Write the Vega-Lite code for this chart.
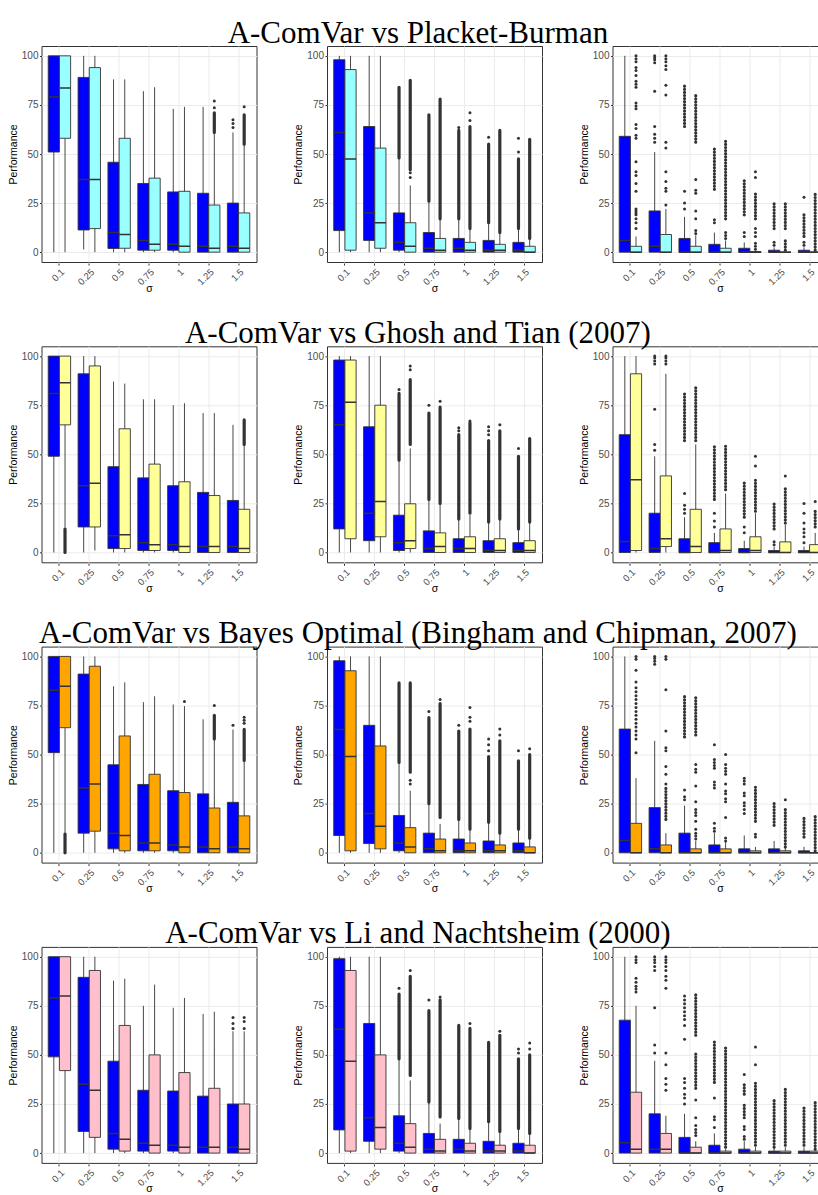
{
"$schema": "https://vega.github.io/schema/vega-lite/v6.json",
"padding": {"left": 7.5, "top": 17, "right": -10, "bottom": -2},
"background": "white",
"spacing": 23.3,
"resolve": {"scale": {"xOffset": "independent", "color": "independent"}},
"config": {
  "view": {"stroke": "#333333", "strokeWidth": 1, "fill": "white"},
  "font": "Liberation Sans",
  "title": {"font": "Liberation Serif", "fontSize": 31, "fontWeight": "normal", "color": "black", "anchor": "middle", "offset": -4},
  "axis": {"labelFont": "Liberation Sans", "titleFont": "Liberation Sans", "labelColor": "#4D4D4D", "titleColor": "black", "titleFontWeight": "normal", "labelFontSize": 10, "titleFontSize": 10.5, "tickColor": "#333333", "tickSize": 2, "domain": false, "gridColor": "#EBEBEB", "gridWidth": 1},
  "axisX": {"labelFontSize": 9.5}
},
"datasets": {
"r1": [
{"col":1,"sigma":"0.1","method":"A-ComVar","lo":0,"q1":51,"med":79,"q3":100,"hi":100},
{"col":1,"sigma":"0.1","method":"Placket-Burman","lo":0,"q1":58,"med":83.6,"q3":100,"hi":100},
{"col":1,"sigma":"0.25","method":"A-ComVar","lo":1.4,"q1":11.3,"med":37,"q3":89,"hi":100},
{"col":1,"sigma":"0.25","method":"Placket-Burman","lo":0,"q1":12,"med":37,"q3":94,"hi":100},
{"col":1,"sigma":"0.5","method":"A-ComVar","lo":0,"q1":1.9,"med":10,"q3":45.8,"hi":88},
{"col":1,"sigma":"0.5","method":"Placket-Burman","lo":0,"q1":2,"med":9,"q3":58,"hi":88},
{"col":1,"sigma":"0.75","method":"A-ComVar","lo":0,"q1":1,"med":6,"q3":35,"hi":82},
{"col":1,"sigma":"0.75","method":"Placket-Burman","lo":0,"q1":1,"med":4,"q3":37.7,"hi":84},
{"col":1,"sigma":"1","method":"A-ComVar","lo":0,"q1":1,"med":4,"q3":30.7,"hi":73},
{"col":1,"sigma":"1","method":"Placket-Burman","lo":0,"q1":0,"med":3,"q3":31,"hi":74},
{"col":1,"sigma":"1.25","method":"A-ComVar","lo":0,"q1":0,"med":3,"q3":30,"hi":74},
{"col":1,"sigma":"1.25","method":"Placket-Burman","lo":0,"q1":0,"med":2,"q3":24,"hi":61},
{"col":1,"sigma":"1.5","method":"A-ComVar","lo":0,"q1":0,"med":3,"q3":25,"hi":61},
{"col":1,"sigma":"1.5","method":"Placket-Burman","lo":0,"q1":0,"med":2,"q3":20,"hi":55},
{"col":1,"sigma":"1.25","method":"Placket-Burman","from":61,"to":71},
{"col":1,"sigma":"1.5","method":"Placket-Burman","from":55,"to":70},
{"col":1,"sigma":"1.25","method":"Placket-Burman","v":73.6},
{"col":1,"sigma":"1.25","method":"Placket-Burman","v":77},
{"col":1,"sigma":"1.5","method":"A-ComVar","v":63.5},
{"col":1,"sigma":"1.5","method":"A-ComVar","v":65.5},
{"col":1,"sigma":"1.5","method":"A-ComVar","v":67.5},
{"col":1,"sigma":"1.5","method":"Placket-Burman","v":74},
{"col":2,"sigma":"0.1","method":"A-ComVar","lo":0,"q1":11,"med":61,"q3":98,"hi":100},
{"col":2,"sigma":"0.1","method":"Placket-Burman","lo":0,"q1":1,"med":47.5,"q3":93,"hi":100},
{"col":2,"sigma":"0.25","method":"A-ComVar","lo":0,"q1":6,"med":20,"q3":64,"hi":100},
{"col":2,"sigma":"0.25","method":"Placket-Burman","lo":0,"q1":2,"med":15,"q3":53,"hi":100},
{"col":2,"sigma":"0.5","method":"A-ComVar","lo":0,"q1":1,"med":5,"q3":20,"hi":48},
{"col":2,"sigma":"0.5","method":"Placket-Burman","lo":0,"q1":0,"med":3,"q3":15,"hi":34},
{"col":2,"sigma":"0.75","method":"A-ComVar","lo":0,"q1":0,"med":2,"q3":10,"hi":25.5},
{"col":2,"sigma":"0.75","method":"Placket-Burman","lo":0,"q1":0,"med":1,"q3":7,"hi":17},
{"col":2,"sigma":"1","method":"A-ComVar","lo":0,"q1":0,"med":2,"q3":7,"hi":17},
{"col":2,"sigma":"1","method":"Placket-Burman","lo":0,"q1":0,"med":1,"q3":5,"hi":12},
{"col":2,"sigma":"1.25","method":"A-ComVar","lo":0,"q1":0,"med":1,"q3":6,"hi":15},
{"col":2,"sigma":"1.25","method":"Placket-Burman","lo":0,"q1":0,"med":1,"q3":4,"hi":10},
{"col":2,"sigma":"1.5","method":"A-ComVar","lo":0,"q1":0,"med":1,"q3":5,"hi":12},
{"col":2,"sigma":"1.5","method":"Placket-Burman","lo":0,"q1":0,"med":0,"q3":3,"hi":7},
{"col":2,"sigma":"0.5","method":"A-ComVar","from":48,"to":84},
{"col":2,"sigma":"0.5","method":"Placket-Burman","from":42,"to":87.5},
{"col":2,"sigma":"0.75","method":"A-ComVar","from":26,"to":70},
{"col":2,"sigma":"0.75","method":"Placket-Burman","from":17,"to":78},
{"col":2,"sigma":"1","method":"A-ComVar","from":17,"to":62},
{"col":2,"sigma":"1","method":"Placket-Burman","from":12,"to":64},
{"col":2,"sigma":"1.25","method":"A-ComVar","from":15,"to":55},
{"col":2,"sigma":"1.25","method":"Placket-Burman","from":10,"to":62},
{"col":2,"sigma":"1.5","method":"A-ComVar","from":12,"to":47.5},
{"col":2,"sigma":"1.5","method":"Placket-Burman","from":7,"to":57.5},
{"col":2,"sigma":"0.5","method":"Placket-Burman","v":38},
{"col":2,"sigma":"0.5","method":"Placket-Burman","v":40.5},
{"col":2,"sigma":"1","method":"A-ComVar","v":63.5},
{"col":2,"sigma":"1","method":"Placket-Burman","v":67},
{"col":2,"sigma":"1","method":"Placket-Burman","v":71},
{"col":2,"sigma":"1.25","method":"A-ComVar","v":58.5},
{"col":2,"sigma":"1.5","method":"A-ComVar","v":51},
{"col":2,"sigma":"1.5","method":"A-ComVar","v":58},
{"col":3,"sigma":"0.1","method":"A-ComVar","lo":0,"q1":0,"med":6,"q3":59,"hi":100},
{"col":3,"sigma":"0.1","method":"Placket-Burman","lo":0,"q1":0,"med":0,"q3":3,"hi":8},
{"col":3,"sigma":"0.25","method":"A-ComVar","lo":0,"q1":0,"med":3,"q3":21,"hi":51},
{"col":3,"sigma":"0.25","method":"Placket-Burman","lo":0,"q1":0,"med":0,"q3":9,"hi":22},
{"col":3,"sigma":"0.5","method":"A-ComVar","lo":0,"q1":0,"med":0,"q3":7,"hi":18},
{"col":3,"sigma":"0.5","method":"Placket-Burman","lo":0,"q1":0,"med":0,"q3":3,"hi":8.6},
{"col":3,"sigma":"0.75","method":"A-ComVar","lo":0,"q1":0,"med":0,"q3":4,"hi":10},
{"col":3,"sigma":"0.75","method":"Placket-Burman","lo":0,"q1":0,"med":0,"q3":2,"hi":6},
{"col":3,"sigma":"1","method":"A-ComVar","lo":0,"q1":0,"med":0,"q3":2,"hi":5},
{"col":3,"sigma":"1","method":"Placket-Burman","lo":0,"q1":0,"med":0,"q3":0.3,"hi":0.8},
{"col":3,"sigma":"1.25","method":"A-ComVar","lo":0,"q1":0,"med":0,"q3":1,"hi":2.5},
{"col":3,"sigma":"1.25","method":"Placket-Burman","lo":0,"q1":0,"med":0,"q3":0,"hi":0},
{"col":3,"sigma":"1.5","method":"A-ComVar","lo":0,"q1":0,"med":0,"q3":1,"hi":2.5},
{"col":3,"sigma":"1.5","method":"Placket-Burman","lo":0,"q1":0,"med":0,"q3":0,"hi":0},
{"col":3,"sigma":"0.5","method":"A-ComVar","from":64,"to":86},
{"col":3,"sigma":"0.5","method":"Placket-Burman","from":56,"to":81},
{"col":3,"sigma":"0.75","method":"A-ComVar","from":32,"to":54},
{"col":3,"sigma":"0.75","method":"Placket-Burman","from":17,"to":58},
{"col":3,"sigma":"1","method":"A-ComVar","from":19,"to":37},
{"col":3,"sigma":"1","method":"Placket-Burman","from":17,"to":30},
{"col":3,"sigma":"1.25","method":"A-ComVar","from":12,"to":25},
{"col":3,"sigma":"1.25","method":"Placket-Burman","from":1,"to":7},
{"col":3,"sigma":"1.25","method":"Placket-Burman","from":12,"to":26},
{"col":3,"sigma":"1.5","method":"A-ComVar","from":8,"to":20},
{"col":3,"sigma":"1.5","method":"Placket-Burman","from":1,"to":30},
{"col":3,"sigma":"0.1","method":"Placket-Burman","v":12},
{"col":3,"sigma":"0.1","method":"Placket-Burman","v":15},
{"col":3,"sigma":"0.1","method":"Placket-Burman","v":17},
{"col":3,"sigma":"0.1","method":"Placket-Burman","v":19},
{"col":3,"sigma":"0.1","method":"Placket-Burman","v":20},
{"col":3,"sigma":"0.1","method":"Placket-Burman","v":21},
{"col":3,"sigma":"0.1","method":"Placket-Burman","v":22},
{"col":3,"sigma":"0.1","method":"Placket-Burman","v":31},
{"col":3,"sigma":"0.1","method":"Placket-Burman","v":35},
{"col":3,"sigma":"0.1","method":"Placket-Burman","v":39},
{"col":3,"sigma":"0.1","method":"Placket-Burman","v":41},
{"col":3,"sigma":"0.1","method":"Placket-Burman","v":46},
{"col":3,"sigma":"0.1","method":"Placket-Burman","v":58},
{"col":3,"sigma":"0.1","method":"Placket-Burman","v":59.5},
{"col":3,"sigma":"0.1","method":"Placket-Burman","v":63},
{"col":3,"sigma":"0.1","method":"Placket-Burman","v":65},
{"col":3,"sigma":"0.1","method":"Placket-Burman","v":73},
{"col":3,"sigma":"0.1","method":"Placket-Burman","v":74.5},
{"col":3,"sigma":"0.1","method":"Placket-Burman","v":76},
{"col":3,"sigma":"0.1","method":"Placket-Burman","v":84},
{"col":3,"sigma":"0.1","method":"Placket-Burman","v":85.5},
{"col":3,"sigma":"0.1","method":"Placket-Burman","v":87},
{"col":3,"sigma":"0.1","method":"Placket-Burman","v":90},
{"col":3,"sigma":"0.1","method":"Placket-Burman","v":92.5},
{"col":3,"sigma":"0.1","method":"Placket-Burman","v":94},
{"col":3,"sigma":"0.1","method":"Placket-Burman","v":97},
{"col":3,"sigma":"0.1","method":"Placket-Burman","v":98.5},
{"col":3,"sigma":"0.1","method":"Placket-Burman","v":100},
{"col":3,"sigma":"0.25","method":"A-ComVar","v":56},
{"col":3,"sigma":"0.25","method":"A-ComVar","v":58},
{"col":3,"sigma":"0.25","method":"A-ComVar","v":60},
{"col":3,"sigma":"0.25","method":"A-ComVar","v":64},
{"col":3,"sigma":"0.25","method":"A-ComVar","v":82},
{"col":3,"sigma":"0.25","method":"A-ComVar","v":96.5},
{"col":3,"sigma":"0.25","method":"A-ComVar","v":98},
{"col":3,"sigma":"0.25","method":"A-ComVar","v":99},
{"col":3,"sigma":"0.25","method":"A-ComVar","v":100},
{"col":3,"sigma":"0.25","method":"Placket-Burman","v":24},
{"col":3,"sigma":"0.25","method":"Placket-Burman","v":31},
{"col":3,"sigma":"0.25","method":"Placket-Burman","v":32.5},
{"col":3,"sigma":"0.25","method":"Placket-Burman","v":36},
{"col":3,"sigma":"0.25","method":"Placket-Burman","v":41},
{"col":3,"sigma":"0.25","method":"Placket-Burman","v":53},
{"col":3,"sigma":"0.25","method":"Placket-Burman","v":56},
{"col":3,"sigma":"0.25","method":"Placket-Burman","v":80},
{"col":3,"sigma":"0.25","method":"Placket-Burman","v":85},
{"col":3,"sigma":"0.25","method":"Placket-Burman","v":93},
{"col":3,"sigma":"0.25","method":"Placket-Burman","v":95},
{"col":3,"sigma":"0.25","method":"Placket-Burman","v":97},
{"col":3,"sigma":"0.25","method":"Placket-Burman","v":98.5},
{"col":3,"sigma":"0.25","method":"Placket-Burman","v":100},
{"col":3,"sigma":"0.5","method":"A-ComVar","v":22},
{"col":3,"sigma":"0.5","method":"A-ComVar","v":25},
{"col":3,"sigma":"0.5","method":"A-ComVar","v":31},
{"col":3,"sigma":"0.5","method":"Placket-Burman","v":9.5},
{"col":3,"sigma":"0.5","method":"Placket-Burman","v":11},
{"col":3,"sigma":"0.5","method":"Placket-Burman","v":17},
{"col":3,"sigma":"0.5","method":"Placket-Burman","v":21},
{"col":3,"sigma":"0.5","method":"Placket-Burman","v":30},
{"col":3,"sigma":"0.5","method":"Placket-Burman","v":31.5},
{"col":3,"sigma":"0.5","method":"Placket-Burman","v":37},
{"col":3,"sigma":"0.75","method":"A-ComVar","v":15},
{"col":3,"sigma":"0.75","method":"A-ComVar","v":16.5},
{"col":3,"sigma":"0.75","method":"Placket-Burman","v":7},
{"col":3,"sigma":"0.75","method":"Placket-Burman","v":8.5},
{"col":3,"sigma":"0.75","method":"Placket-Burman","v":10},
{"col":3,"sigma":"1","method":"A-ComVar","v":8},
{"col":3,"sigma":"1","method":"A-ComVar","v":10},
{"col":3,"sigma":"1","method":"Placket-Burman","v":1.5},
{"col":3,"sigma":"1","method":"Placket-Burman","v":3},
{"col":3,"sigma":"1","method":"Placket-Burman","v":4.5},
{"col":3,"sigma":"1","method":"Placket-Burman","v":8},
{"col":3,"sigma":"1","method":"Placket-Burman","v":10},
{"col":3,"sigma":"1","method":"Placket-Burman","v":12},
{"col":3,"sigma":"1","method":"Placket-Burman","v":38},
{"col":3,"sigma":"1","method":"Placket-Burman","v":41},
{"col":3,"sigma":"1.25","method":"A-ComVar","v":3.5},
{"col":3,"sigma":"1.25","method":"A-ComVar","v":5},
{"col":3,"sigma":"1.5","method":"A-ComVar","v":3.5},
{"col":3,"sigma":"1.5","method":"A-ComVar","v":5},
{"col":3,"sigma":"1.5","method":"A-ComVar","v":28}
],
"r2": [
{"col":1,"sigma":"0.1","method":"A-ComVar","lo":0,"q1":49,"med":81,"q3":100,"hi":100},
{"col":1,"sigma":"0.1","method":"Ghosh and Tian","lo":13,"q1":65,"med":86.5,"q3":100,"hi":100},
{"col":1,"sigma":"0.25","method":"A-ComVar","lo":0,"q1":13,"med":34,"q3":91,"hi":100},
{"col":1,"sigma":"0.25","method":"Ghosh and Tian","lo":1,"q1":13,"med":35.3,"q3":95,"hi":100},
{"col":1,"sigma":"0.5","method":"A-ComVar","lo":0,"q1":2,"med":8.5,"q3":43.7,"hi":87},
{"col":1,"sigma":"0.5","method":"Ghosh and Tian","lo":0,"q1":2,"med":9,"q3":63,"hi":86},
{"col":1,"sigma":"0.75","method":"A-ComVar","lo":0,"q1":1,"med":5,"q3":38,"hi":78},
{"col":1,"sigma":"0.75","method":"Ghosh and Tian","lo":0,"q1":1,"med":4,"q3":45,"hi":78},
{"col":1,"sigma":"1","method":"A-ComVar","lo":0,"q1":1,"med":4,"q3":34,"hi":75},
{"col":1,"sigma":"1","method":"Ghosh and Tian","lo":0,"q1":0,"med":3,"q3":36,"hi":76},
{"col":1,"sigma":"1.25","method":"A-ComVar","lo":0,"q1":0,"med":3,"q3":30.6,"hi":71},
{"col":1,"sigma":"1.25","method":"Ghosh and Tian","lo":0,"q1":0,"med":3,"q3":29,"hi":71},
{"col":1,"sigma":"1.5","method":"A-ComVar","lo":0,"q1":0,"med":3,"q3":26.5,"hi":65},
{"col":1,"sigma":"1.5","method":"Ghosh and Tian","lo":0,"q1":0,"med":2,"q3":22,"hi":55},
{"col":1,"sigma":"0.1","method":"Ghosh and Tian","from":0,"to":12},
{"col":1,"sigma":"1.5","method":"Ghosh and Tian","from":55,"to":67.5},
{"col":2,"sigma":"0.1","method":"A-ComVar","lo":0,"q1":12,"med":65,"q3":98,"hi":100},
{"col":2,"sigma":"0.1","method":"Ghosh and Tian","lo":0,"q1":7,"med":76.5,"q3":98,"hi":100},
{"col":2,"sigma":"0.25","method":"A-ComVar","lo":0,"q1":6,"med":20,"q3":64,"hi":100},
{"col":2,"sigma":"0.25","method":"Ghosh and Tian","lo":0,"q1":8,"med":26,"q3":75,"hi":100},
{"col":2,"sigma":"0.5","method":"A-ComVar","lo":0,"q1":1,"med":5,"q3":19,"hi":46.6},
{"col":2,"sigma":"0.5","method":"Ghosh and Tian","lo":0,"q1":2,"med":6,"q3":24.8,"hi":53},
{"col":2,"sigma":"0.75","method":"A-ComVar","lo":0,"q1":0,"med":2,"q3":11,"hi":27},
{"col":2,"sigma":"0.75","method":"Ghosh and Tian","lo":0,"q1":0,"med":3,"q3":10,"hi":25},
{"col":2,"sigma":"1","method":"A-ComVar","lo":0,"q1":0,"med":2,"q3":7,"hi":17},
{"col":2,"sigma":"1","method":"Ghosh and Tian","lo":0,"q1":0,"med":2,"q3":8,"hi":19},
{"col":2,"sigma":"1.25","method":"A-ComVar","lo":0,"q1":0,"med":1,"q3":6,"hi":15.5},
{"col":2,"sigma":"1.25","method":"Ghosh and Tian","lo":0,"q1":0,"med":1,"q3":7,"hi":17},
{"col":2,"sigma":"1.5","method":"A-ComVar","lo":0,"q1":0,"med":1,"q3":5,"hi":12},
{"col":2,"sigma":"1.5","method":"Ghosh and Tian","lo":0,"q1":0,"med":1,"q3":6,"hi":15.5},
{"col":2,"sigma":"0.5","method":"A-ComVar","from":47,"to":81},
{"col":2,"sigma":"0.5","method":"Ghosh and Tian","from":55,"to":88},
{"col":2,"sigma":"0.75","method":"A-ComVar","from":27,"to":71},
{"col":2,"sigma":"0.75","method":"Ghosh and Tian","from":25,"to":74},
{"col":2,"sigma":"1","method":"A-ComVar","from":17,"to":60},
{"col":2,"sigma":"1","method":"Ghosh and Tian","from":20,"to":66},
{"col":2,"sigma":"1.25","method":"A-ComVar","from":15.5,"to":57},
{"col":2,"sigma":"1.25","method":"Ghosh and Tian","from":17,"to":62},
{"col":2,"sigma":"1.5","method":"A-ComVar","from":12,"to":49},
{"col":2,"sigma":"1.5","method":"Ghosh and Tian","from":15.5,"to":58},
{"col":2,"sigma":"0.5","method":"A-ComVar","v":83},
{"col":2,"sigma":"0.5","method":"Ghosh and Tian","v":93},
{"col":2,"sigma":"0.5","method":"Ghosh and Tian","v":95},
{"col":2,"sigma":"0.75","method":"A-ComVar","v":75},
{"col":2,"sigma":"0.75","method":"Ghosh and Tian","v":77},
{"col":2,"sigma":"1","method":"A-ComVar","v":62},
{"col":2,"sigma":"1","method":"A-ComVar","v":63.5},
{"col":2,"sigma":"1","method":"Ghosh and Tian","v":67},
{"col":2,"sigma":"1.25","method":"A-ComVar","v":60},
{"col":2,"sigma":"1.25","method":"A-ComVar","v":62},
{"col":2,"sigma":"1.25","method":"A-ComVar","v":64},
{"col":2,"sigma":"1.25","method":"Ghosh and Tian","v":65},
{"col":2,"sigma":"1.5","method":"A-ComVar","v":53},
{"col":3,"sigma":"0.1","method":"A-ComVar","lo":0,"q1":0,"med":5.6,"q3":60,"hi":100},
{"col":3,"sigma":"0.1","method":"Ghosh and Tian","lo":0,"q1":1,"med":37,"q3":91,"hi":100},
{"col":3,"sigma":"0.25","method":"A-ComVar","lo":0,"q1":0,"med":2,"q3":20,"hi":49},
{"col":3,"sigma":"0.25","method":"Ghosh and Tian","lo":0,"q1":3,"med":7,"q3":39,"hi":91},
{"col":3,"sigma":"0.5","method":"A-ComVar","lo":0,"q1":0,"med":0,"q3":7,"hi":18},
{"col":3,"sigma":"0.5","method":"Ghosh and Tian","lo":0,"q1":0,"med":3,"q3":22,"hi":55},
{"col":3,"sigma":"0.75","method":"A-ComVar","lo":0,"q1":0,"med":0,"q3":5,"hi":10},
{"col":3,"sigma":"0.75","method":"Ghosh and Tian","lo":0,"q1":0,"med":1,"q3":12,"hi":30},
{"col":3,"sigma":"1","method":"A-ComVar","lo":0,"q1":0,"med":0,"q3":2,"hi":6},
{"col":3,"sigma":"1","method":"Ghosh and Tian","lo":0,"q1":0,"med":1,"q3":8,"hi":20},
{"col":3,"sigma":"1.25","method":"A-ComVar","lo":0,"q1":0,"med":0,"q3":1,"hi":3},
{"col":3,"sigma":"1.25","method":"Ghosh and Tian","lo":0,"q1":0,"med":0,"q3":5.4,"hi":14},
{"col":3,"sigma":"1.5","method":"A-ComVar","lo":0,"q1":0,"med":0,"q3":1,"hi":3},
{"col":3,"sigma":"1.5","method":"Ghosh and Tian","lo":0,"q1":0,"med":0,"q3":4,"hi":10},
{"col":3,"sigma":"0.5","method":"A-ComVar","from":57,"to":81},
{"col":3,"sigma":"0.5","method":"Ghosh and Tian","from":57,"to":84},
{"col":3,"sigma":"0.75","method":"A-ComVar","from":27,"to":54},
{"col":3,"sigma":"0.75","method":"Ghosh and Tian","from":32,"to":54.5},
{"col":3,"sigma":"1","method":"A-ComVar","from":18,"to":36},
{"col":3,"sigma":"1","method":"Ghosh and Tian","from":21,"to":37},
{"col":3,"sigma":"1.25","method":"A-ComVar","from":12,"to":26},
{"col":3,"sigma":"1.25","method":"Ghosh and Tian","from":15,"to":33},
{"col":3,"sigma":"1.5","method":"Ghosh and Tian","from":13,"to":22},
{"col":3,"sigma":"0.25","method":"A-ComVar","v":52},
{"col":3,"sigma":"0.25","method":"A-ComVar","v":55},
{"col":3,"sigma":"0.25","method":"A-ComVar","v":73},
{"col":3,"sigma":"0.25","method":"A-ComVar","v":96},
{"col":3,"sigma":"0.25","method":"A-ComVar","v":97.5},
{"col":3,"sigma":"0.25","method":"A-ComVar","v":99},
{"col":3,"sigma":"0.25","method":"A-ComVar","v":100},
{"col":3,"sigma":"0.25","method":"Ghosh and Tian","v":96},
{"col":3,"sigma":"0.25","method":"Ghosh and Tian","v":97.5},
{"col":3,"sigma":"0.25","method":"Ghosh and Tian","v":99},
{"col":3,"sigma":"0.25","method":"Ghosh and Tian","v":100},
{"col":3,"sigma":"0.5","method":"A-ComVar","v":20},
{"col":3,"sigma":"0.5","method":"A-ComVar","v":22},
{"col":3,"sigma":"0.5","method":"A-ComVar","v":24},
{"col":3,"sigma":"0.5","method":"A-ComVar","v":30},
{"col":3,"sigma":"0.75","method":"A-ComVar","v":13},
{"col":3,"sigma":"0.75","method":"A-ComVar","v":16},
{"col":3,"sigma":"0.75","method":"A-ComVar","v":20},
{"col":3,"sigma":"1","method":"A-ComVar","v":10},
{"col":3,"sigma":"1","method":"A-ComVar","v":13},
{"col":3,"sigma":"1","method":"Ghosh and Tian","v":44},
{"col":3,"sigma":"1","method":"Ghosh and Tian","v":49},
{"col":3,"sigma":"1.25","method":"A-ComVar","v":4},
{"col":3,"sigma":"1.25","method":"A-ComVar","v":5.5},
{"col":3,"sigma":"1.25","method":"Ghosh and Tian","v":39},
{"col":3,"sigma":"1.5","method":"A-ComVar","v":5},
{"col":3,"sigma":"1.5","method":"A-ComVar","v":8},
{"col":3,"sigma":"1.5","method":"A-ComVar","v":10},
{"col":3,"sigma":"1.5","method":"A-ComVar","v":12},
{"col":3,"sigma":"1.5","method":"A-ComVar","v":15},
{"col":3,"sigma":"1.5","method":"A-ComVar","v":20},
{"col":3,"sigma":"1.5","method":"A-ComVar","v":25},
{"col":3,"sigma":"1.5","method":"Ghosh and Tian","v":26}
],
"r3": [
{"col":1,"sigma":"0.1","method":"A-ComVar","lo":0,"q1":51,"med":82.8,"q3":100,"hi":100},
{"col":1,"sigma":"0.1","method":"Bayes Optimal","lo":10.5,"q1":63.7,"med":84.8,"q3":100,"hi":100},
{"col":1,"sigma":"0.25","method":"A-ComVar","lo":0,"q1":10,"med":33,"q3":91,"hi":100},
{"col":1,"sigma":"0.25","method":"Bayes Optimal","lo":0,"q1":11,"med":35,"q3":95,"hi":100},
{"col":1,"sigma":"0.5","method":"A-ComVar","lo":0,"q1":2,"med":10,"q3":44.8,"hi":84.8},
{"col":1,"sigma":"0.5","method":"Bayes Optimal","lo":0,"q1":1,"med":8.8,"q3":59.5,"hi":86.8},
{"col":1,"sigma":"0.75","method":"A-ComVar","lo":0,"q1":1,"med":5,"q3":34.8,"hi":76.7},
{"col":1,"sigma":"0.75","method":"Bayes Optimal","lo":0,"q1":1,"med":5,"q3":40,"hi":79.7},
{"col":1,"sigma":"1","method":"A-ComVar","lo":0,"q1":1,"med":4,"q3":31.6,"hi":75.5},
{"col":1,"sigma":"1","method":"Bayes Optimal","lo":0,"q1":0,"med":3,"q3":30.7,"hi":74.7},
{"col":1,"sigma":"1.25","method":"A-ComVar","lo":0,"q1":0,"med":3,"q3":30,"hi":68},
{"col":1,"sigma":"1.25","method":"Bayes Optimal","lo":0,"q1":0,"med":2,"q3":22.8,"hi":58},
{"col":1,"sigma":"1.5","method":"A-ComVar","lo":0,"q1":0,"med":3,"q3":25.7,"hi":62.8},
{"col":1,"sigma":"1.5","method":"Bayes Optimal","lo":0,"q1":0,"med":2,"q3":18.8,"hi":46.8},
{"col":1,"sigma":"0.1","method":"Bayes Optimal","from":0,"to":9.6},
{"col":1,"sigma":"1.25","method":"Bayes Optimal","from":58,"to":70},
{"col":1,"sigma":"1.5","method":"Bayes Optimal","from":47,"to":62.8},
{"col":1,"sigma":"1","method":"Bayes Optimal","v":77},
{"col":1,"sigma":"1.25","method":"Bayes Optimal","v":75},
{"col":1,"sigma":"1.5","method":"A-ComVar","v":65},
{"col":1,"sigma":"1.5","method":"Bayes Optimal","v":66},
{"col":1,"sigma":"1.5","method":"Bayes Optimal","v":67.5},
{"col":1,"sigma":"1.5","method":"Bayes Optimal","v":69},
{"col":2,"sigma":"0.1","method":"A-ComVar","lo":0,"q1":8.8,"med":62.8,"q3":97.8,"hi":100},
{"col":2,"sigma":"0.1","method":"Bayes Optimal","lo":0,"q1":1,"med":49,"q3":92.7,"hi":100},
{"col":2,"sigma":"0.25","method":"A-ComVar","lo":0,"q1":4.7,"med":20,"q3":64.9,"hi":100},
{"col":2,"sigma":"0.25","method":"Bayes Optimal","lo":0,"q1":2,"med":13.5,"q3":54.4,"hi":100},
{"col":2,"sigma":"0.5","method":"A-ComVar","lo":0,"q1":1,"med":5,"q3":19,"hi":46},
{"col":2,"sigma":"0.5","method":"Bayes Optimal","lo":0,"q1":0,"med":3,"q3":12.8,"hi":31.6},
{"col":2,"sigma":"0.75","method":"A-ComVar","lo":0,"q1":0,"med":2,"q3":10,"hi":24.8},
{"col":2,"sigma":"0.75","method":"Bayes Optimal","lo":0,"q1":0,"med":1,"q3":7,"hi":14.7},
{"col":2,"sigma":"1","method":"A-ComVar","lo":0,"q1":0,"med":1,"q3":7,"hi":17},
{"col":2,"sigma":"1","method":"Bayes Optimal","lo":0,"q1":0,"med":1,"q3":5,"hi":12},
{"col":2,"sigma":"1.25","method":"A-ComVar","lo":0,"q1":0,"med":1,"q3":6,"hi":15.5},
{"col":2,"sigma":"1.25","method":"Bayes Optimal","lo":0,"q1":0,"med":1,"q3":4,"hi":10},
{"col":2,"sigma":"1.5","method":"A-ComVar","lo":0,"q1":0,"med":1,"q3":5,"hi":12},
{"col":2,"sigma":"1.5","method":"Bayes Optimal","lo":0,"q1":0,"med":0,"q3":3,"hi":7.4},
{"col":2,"sigma":"0.5","method":"A-ComVar","from":46,"to":86.5},
{"col":2,"sigma":"0.5","method":"Bayes Optimal","from":41,"to":86.5},
{"col":2,"sigma":"0.75","method":"A-ComVar","from":25,"to":68.8},
{"col":2,"sigma":"0.75","method":"Bayes Optimal","from":18,"to":76},
{"col":2,"sigma":"1","method":"A-ComVar","from":17,"to":62},
{"col":2,"sigma":"1","method":"Bayes Optimal","from":12,"to":63},
{"col":2,"sigma":"1.25","method":"A-ComVar","from":15.5,"to":49},
{"col":2,"sigma":"1.25","method":"Bayes Optimal","from":10,"to":57},
{"col":2,"sigma":"1.5","method":"A-ComVar","from":12,"to":46.8},
{"col":2,"sigma":"1.5","method":"Bayes Optimal","from":7.4,"to":50},
{"col":2,"sigma":"0.5","method":"Bayes Optimal","v":35},
{"col":2,"sigma":"0.5","method":"Bayes Optimal","v":37},
{"col":2,"sigma":"0.75","method":"A-ComVar","v":72},
{"col":2,"sigma":"0.75","method":"Bayes Optimal","v":78},
{"col":2,"sigma":"1","method":"A-ComVar","v":65},
{"col":2,"sigma":"1","method":"Bayes Optimal","v":67},
{"col":2,"sigma":"1","method":"Bayes Optimal","v":69},
{"col":2,"sigma":"1","method":"Bayes Optimal","v":74},
{"col":2,"sigma":"1.25","method":"A-ComVar","v":52},
{"col":2,"sigma":"1.25","method":"A-ComVar","v":55},
{"col":2,"sigma":"1.25","method":"A-ComVar","v":58},
{"col":2,"sigma":"1.25","method":"Bayes Optimal","v":60},
{"col":2,"sigma":"1.25","method":"Bayes Optimal","v":63},
{"col":2,"sigma":"1.5","method":"A-ComVar","v":52},
{"col":2,"sigma":"1.5","method":"Bayes Optimal","v":53},
{"col":3,"sigma":"0.1","method":"A-ComVar","lo":0,"q1":0,"med":6.2,"q3":63,"hi":100},
{"col":3,"sigma":"0.1","method":"Bayes Optimal","lo":0,"q1":0,"med":0,"q3":15,"hi":38},
{"col":3,"sigma":"0.25","method":"A-ComVar","lo":0,"q1":0,"med":2,"q3":23,"hi":57},
{"col":3,"sigma":"0.25","method":"Bayes Optimal","lo":0,"q1":0,"med":0,"q3":4,"hi":10},
{"col":3,"sigma":"0.5","method":"A-ComVar","lo":0,"q1":0,"med":0,"q3":10,"hi":24},
{"col":3,"sigma":"0.5","method":"Bayes Optimal","lo":0,"q1":0,"med":0,"q3":2,"hi":6},
{"col":3,"sigma":"0.75","method":"A-ComVar","lo":0,"q1":0,"med":0,"q3":4,"hi":10},
{"col":3,"sigma":"0.75","method":"Bayes Optimal","lo":0,"q1":0,"med":0,"q3":2,"hi":5.4},
{"col":3,"sigma":"1","method":"A-ComVar","lo":0,"q1":0,"med":0,"q3":2,"hi":8.8},
{"col":3,"sigma":"1","method":"Bayes Optimal","lo":0,"q1":0,"med":0,"q3":1,"hi":3},
{"col":3,"sigma":"1.25","method":"A-ComVar","lo":0,"q1":0,"med":0,"q3":2,"hi":6},
{"col":3,"sigma":"1.25","method":"Bayes Optimal","lo":0,"q1":0,"med":0,"q3":1,"hi":3},
{"col":3,"sigma":"1.5","method":"A-ComVar","lo":0,"q1":0,"med":0,"q3":1,"hi":3},
{"col":3,"sigma":"1.5","method":"Bayes Optimal","lo":0,"q1":0,"med":0,"q3":0,"hi":0},
{"col":3,"sigma":"0.25","method":"Bayes Optimal","from":17,"to":33},
{"col":3,"sigma":"0.5","method":"A-ComVar","from":59,"to":80},
{"col":3,"sigma":"0.5","method":"Bayes Optimal","from":60,"to":79},
{"col":3,"sigma":"1","method":"Bayes Optimal","from":16,"to":34},
{"col":3,"sigma":"1.25","method":"A-ComVar","from":14,"to":26},
{"col":3,"sigma":"1.25","method":"Bayes Optimal","from":3,"to":22},
{"col":3,"sigma":"1.5","method":"A-ComVar","from":8,"to":18},
{"col":3,"sigma":"1.5","method":"Bayes Optimal","from":1,"to":19},
{"col":3,"sigma":"0.1","method":"Bayes Optimal","v":51},
{"col":3,"sigma":"0.1","method":"Bayes Optimal","v":58},
{"col":3,"sigma":"0.1","method":"Bayes Optimal","v":60},
{"col":3,"sigma":"0.1","method":"Bayes Optimal","v":62},
{"col":3,"sigma":"0.1","method":"Bayes Optimal","v":64},
{"col":3,"sigma":"0.1","method":"Bayes Optimal","v":66},
{"col":3,"sigma":"0.1","method":"Bayes Optimal","v":68},
{"col":3,"sigma":"0.1","method":"Bayes Optimal","v":70},
{"col":3,"sigma":"0.1","method":"Bayes Optimal","v":72},
{"col":3,"sigma":"0.1","method":"Bayes Optimal","v":74},
{"col":3,"sigma":"0.1","method":"Bayes Optimal","v":76},
{"col":3,"sigma":"0.1","method":"Bayes Optimal","v":78},
{"col":3,"sigma":"0.1","method":"Bayes Optimal","v":80},
{"col":3,"sigma":"0.1","method":"Bayes Optimal","v":82},
{"col":3,"sigma":"0.1","method":"Bayes Optimal","v":84},
{"col":3,"sigma":"0.1","method":"Bayes Optimal","v":87},
{"col":3,"sigma":"0.1","method":"Bayes Optimal","v":93},
{"col":3,"sigma":"0.1","method":"Bayes Optimal","v":98.5},
{"col":3,"sigma":"0.1","method":"Bayes Optimal","v":100},
{"col":3,"sigma":"0.25","method":"A-ComVar","v":96},
{"col":3,"sigma":"0.25","method":"A-ComVar","v":97.5},
{"col":3,"sigma":"0.25","method":"A-ComVar","v":99},
{"col":3,"sigma":"0.25","method":"A-ComVar","v":100},
{"col":3,"sigma":"0.25","method":"Bayes Optimal","v":35},
{"col":3,"sigma":"0.25","method":"Bayes Optimal","v":40},
{"col":3,"sigma":"0.25","method":"Bayes Optimal","v":44},
{"col":3,"sigma":"0.25","method":"Bayes Optimal","v":52},
{"col":3,"sigma":"0.25","method":"Bayes Optimal","v":53.5},
{"col":3,"sigma":"0.25","method":"Bayes Optimal","v":62},
{"col":3,"sigma":"0.25","method":"Bayes Optimal","v":83},
{"col":3,"sigma":"0.25","method":"Bayes Optimal","v":98.5},
{"col":3,"sigma":"0.25","method":"Bayes Optimal","v":100},
{"col":3,"sigma":"0.5","method":"A-ComVar","v":27},
{"col":3,"sigma":"0.5","method":"A-ComVar","v":28.5},
{"col":3,"sigma":"0.5","method":"A-ComVar","v":32},
{"col":3,"sigma":"0.5","method":"Bayes Optimal","v":7},
{"col":3,"sigma":"0.5","method":"Bayes Optimal","v":8.5},
{"col":3,"sigma":"0.5","method":"Bayes Optimal","v":10},
{"col":3,"sigma":"0.5","method":"Bayes Optimal","v":12},
{"col":3,"sigma":"0.5","method":"Bayes Optimal","v":16},
{"col":3,"sigma":"0.5","method":"Bayes Optimal","v":19},
{"col":3,"sigma":"0.5","method":"Bayes Optimal","v":20.5},
{"col":3,"sigma":"0.5","method":"Bayes Optimal","v":22},
{"col":3,"sigma":"0.5","method":"Bayes Optimal","v":26},
{"col":3,"sigma":"0.5","method":"Bayes Optimal","v":34},
{"col":3,"sigma":"0.5","method":"Bayes Optimal","v":41},
{"col":3,"sigma":"0.5","method":"Bayes Optimal","v":42.5},
{"col":3,"sigma":"0.5","method":"Bayes Optimal","v":45},
{"col":3,"sigma":"0.75","method":"A-ComVar","v":11},
{"col":3,"sigma":"0.75","method":"A-ComVar","v":12.5},
{"col":3,"sigma":"0.75","method":"A-ComVar","v":15},
{"col":3,"sigma":"0.75","method":"A-ComVar","v":33},
{"col":3,"sigma":"0.75","method":"A-ComVar","v":34.5},
{"col":3,"sigma":"0.75","method":"A-ComVar","v":36},
{"col":3,"sigma":"0.75","method":"A-ComVar","v":43},
{"col":3,"sigma":"0.75","method":"A-ComVar","v":44.5},
{"col":3,"sigma":"0.75","method":"A-ComVar","v":46},
{"col":3,"sigma":"0.75","method":"A-ComVar","v":47.5},
{"col":3,"sigma":"0.75","method":"A-ComVar","v":55},
{"col":3,"sigma":"0.75","method":"Bayes Optimal","v":6},
{"col":3,"sigma":"0.75","method":"Bayes Optimal","v":7.5},
{"col":3,"sigma":"0.75","method":"Bayes Optimal","v":18},
{"col":3,"sigma":"0.75","method":"Bayes Optimal","v":26},
{"col":3,"sigma":"0.75","method":"Bayes Optimal","v":27.5},
{"col":3,"sigma":"0.75","method":"Bayes Optimal","v":30},
{"col":3,"sigma":"0.75","method":"Bayes Optimal","v":31.5},
{"col":3,"sigma":"0.75","method":"Bayes Optimal","v":35},
{"col":3,"sigma":"0.75","method":"Bayes Optimal","v":40},
{"col":3,"sigma":"0.75","method":"Bayes Optimal","v":41.5},
{"col":3,"sigma":"0.75","method":"Bayes Optimal","v":43},
{"col":3,"sigma":"0.75","method":"Bayes Optimal","v":45},
{"col":3,"sigma":"0.75","method":"Bayes Optimal","v":50},
{"col":3,"sigma":"1","method":"A-ComVar","v":20},
{"col":3,"sigma":"1","method":"A-ComVar","v":22},
{"col":3,"sigma":"1","method":"A-ComVar","v":24},
{"col":3,"sigma":"1","method":"A-ComVar","v":25.5},
{"col":3,"sigma":"1","method":"A-ComVar","v":29},
{"col":3,"sigma":"1","method":"A-ComVar","v":30.5},
{"col":3,"sigma":"1","method":"A-ComVar","v":35},
{"col":3,"sigma":"1","method":"A-ComVar","v":36.5},
{"col":3,"sigma":"1","method":"A-ComVar","v":38},
{"col":3,"sigma":"1","method":"Bayes Optimal","v":8},
{"col":3,"sigma":"1","method":"Bayes Optimal","v":9.5},
{"col":3,"sigma":"1.25","method":"Bayes Optimal","v":27}
],
"r4": [
{"col":1,"sigma":"0.1","method":"A-ComVar","lo":0,"q1":49,"med":79,"q3":100,"hi":100},
{"col":1,"sigma":"0.1","method":"Li and Nachtsheim","lo":0,"q1":42,"med":80,"q3":100,"hi":100},
{"col":1,"sigma":"0.25","method":"A-ComVar","lo":0,"q1":11,"med":35,"q3":89.5,"hi":100},
{"col":1,"sigma":"0.25","method":"Li and Nachtsheim","lo":0,"q1":8,"med":32,"q3":93,"hi":100},
{"col":1,"sigma":"0.5","method":"A-ComVar","lo":0,"q1":2,"med":10,"q3":46.8,"hi":87.8},
{"col":1,"sigma":"0.5","method":"Li and Nachtsheim","lo":0,"q1":1,"med":7,"q3":65,"hi":88.8},
{"col":1,"sigma":"0.75","method":"A-ComVar","lo":0,"q1":1,"med":5,"q3":32,"hi":75},
{"col":1,"sigma":"0.75","method":"Li and Nachtsheim","lo":0,"q1":0,"med":4,"q3":50,"hi":85.8},
{"col":1,"sigma":"1","method":"A-ComVar","lo":0,"q1":1,"med":4,"q3":31.6,"hi":74},
{"col":1,"sigma":"1","method":"Li and Nachtsheim","lo":0,"q1":0,"med":3,"q3":41,"hi":79},
{"col":1,"sigma":"1.25","method":"A-ComVar","lo":0,"q1":0,"med":3,"q3":29,"hi":70.8},
{"col":1,"sigma":"1.25","method":"Li and Nachtsheim","lo":0,"q1":0,"med":3,"q3":33,"hi":72},
{"col":1,"sigma":"1.5","method":"A-ComVar","lo":0,"q1":0,"med":3,"q3":25,"hi":62},
{"col":1,"sigma":"1.5","method":"Li and Nachtsheim","lo":0,"q1":0,"med":2,"q3":25,"hi":62},
{"col":1,"sigma":"1.5","method":"A-ComVar","v":63.5},
{"col":1,"sigma":"1.5","method":"A-ComVar","v":66},
{"col":1,"sigma":"1.5","method":"A-ComVar","v":69},
{"col":1,"sigma":"1.5","method":"Li and Nachtsheim","v":63.5},
{"col":1,"sigma":"1.5","method":"Li and Nachtsheim","v":67},
{"col":1,"sigma":"1.5","method":"Li and Nachtsheim","v":69},
{"col":2,"sigma":"0.1","method":"A-ComVar","lo":0,"q1":11.8,"med":63,"q3":99,"hi":100},
{"col":2,"sigma":"0.1","method":"Li and Nachtsheim","lo":0,"q1":1,"med":46.8,"q3":93,"hi":100},
{"col":2,"sigma":"0.25","method":"A-ComVar","lo":0,"q1":6,"med":18,"q3":66,"hi":100},
{"col":2,"sigma":"0.25","method":"Li and Nachtsheim","lo":0,"q1":2,"med":13,"q3":50,"hi":100},
{"col":2,"sigma":"0.5","method":"A-ComVar","lo":0,"q1":1,"med":5,"q3":19,"hi":48},
{"col":2,"sigma":"0.5","method":"Li and Nachtsheim","lo":0,"q1":0,"med":3,"q3":15,"hi":37},
{"col":2,"sigma":"0.75","method":"A-ComVar","lo":0,"q1":0,"med":2,"q3":10,"hi":25.7},
{"col":2,"sigma":"0.75","method":"Li and Nachtsheim","lo":0,"q1":0,"med":1,"q3":7,"hi":15},
{"col":2,"sigma":"1","method":"A-ComVar","lo":0,"q1":0,"med":2,"q3":7,"hi":17.6},
{"col":2,"sigma":"1","method":"Li and Nachtsheim","lo":0,"q1":0,"med":1,"q3":5,"hi":12.5},
{"col":2,"sigma":"1.25","method":"A-ComVar","lo":0,"q1":0,"med":1,"q3":6,"hi":16},
{"col":2,"sigma":"1.25","method":"Li and Nachtsheim","lo":0,"q1":0,"med":1,"q3":4,"hi":11},
{"col":2,"sigma":"1.5","method":"A-ComVar","lo":0,"q1":0,"med":1,"q3":5,"hi":12.5},
{"col":2,"sigma":"1.5","method":"Li and Nachtsheim","lo":0,"q1":0,"med":0,"q3":4,"hi":10},
{"col":2,"sigma":"0.5","method":"A-ComVar","from":48,"to":81},
{"col":2,"sigma":"0.5","method":"Li and Nachtsheim","from":39.5,"to":90},
{"col":2,"sigma":"0.75","method":"A-ComVar","from":26,"to":72.5},
{"col":2,"sigma":"0.75","method":"Li and Nachtsheim","from":18.4,"to":78},
{"col":2,"sigma":"1","method":"A-ComVar","from":17.6,"to":65},
{"col":2,"sigma":"1","method":"Li and Nachtsheim","from":12.5,"to":63.5},
{"col":2,"sigma":"1.25","method":"A-ComVar","from":16,"to":56.4},
{"col":2,"sigma":"1.25","method":"Li and Nachtsheim","from":11,"to":60},
{"col":2,"sigma":"1.5","method":"A-ComVar","from":12.5,"to":48},
{"col":2,"sigma":"1.5","method":"Li and Nachtsheim","from":10,"to":50},
{"col":2,"sigma":"0.5","method":"A-ComVar","v":84},
{"col":2,"sigma":"0.5","method":"Li and Nachtsheim","v":93},
{"col":2,"sigma":"0.75","method":"A-ComVar","v":78},
{"col":2,"sigma":"0.75","method":"Li and Nachtsheim","v":79.5},
{"col":2,"sigma":"1","method":"Li and Nachtsheim","v":66},
{"col":2,"sigma":"1.25","method":"Li and Nachtsheim","v":62},
{"col":2,"sigma":"1.5","method":"A-ComVar","v":51},
{"col":2,"sigma":"1.5","method":"A-ComVar","v":53},
{"col":2,"sigma":"1.5","method":"Li and Nachtsheim","v":53},
{"col":2,"sigma":"1.5","method":"Li and Nachtsheim","v":56},
{"col":3,"sigma":"0.1","method":"A-ComVar","lo":0,"q1":0,"med":5.2,"q3":67.7,"hi":100},
{"col":3,"sigma":"0.1","method":"Li and Nachtsheim","lo":0,"q1":0,"med":2,"q3":31,"hi":75},
{"col":3,"sigma":"0.25","method":"A-ComVar","lo":0,"q1":0,"med":2,"q3":20,"hi":47},
{"col":3,"sigma":"0.25","method":"Li and Nachtsheim","lo":0,"q1":0,"med":2,"q3":10,"hi":19},
{"col":3,"sigma":"0.5","method":"A-ComVar","lo":0,"q1":0,"med":0,"q3":8,"hi":20},
{"col":3,"sigma":"0.5","method":"Li and Nachtsheim","lo":0,"q1":0,"med":0,"q3":3,"hi":6},
{"col":3,"sigma":"0.75","method":"A-ComVar","lo":0,"q1":0,"med":0,"q3":4,"hi":10},
{"col":3,"sigma":"0.75","method":"Li and Nachtsheim","lo":0,"q1":0,"med":0,"q3":1,"hi":2},
{"col":3,"sigma":"1","method":"A-ComVar","lo":0,"q1":0,"med":0,"q3":2,"hi":6},
{"col":3,"sigma":"1","method":"Li and Nachtsheim","lo":0,"q1":0,"med":0,"q3":1,"hi":3},
{"col":3,"sigma":"1.25","method":"A-ComVar","lo":0,"q1":0,"med":0,"q3":1,"hi":3},
{"col":3,"sigma":"1.25","method":"Li and Nachtsheim","lo":0,"q1":0,"med":0,"q3":1,"hi":3},
{"col":3,"sigma":"1.5","method":"A-ComVar","lo":0,"q1":0,"med":0,"q3":1,"hi":3},
{"col":3,"sigma":"1.5","method":"Li and Nachtsheim","lo":0,"q1":0,"med":0,"q3":1,"hi":3},
{"col":3,"sigma":"0.5","method":"Li and Nachtsheim","from":33,"to":51},
{"col":3,"sigma":"0.5","method":"Li and Nachtsheim","from":60,"to":81},
{"col":3,"sigma":"0.75","method":"A-ComVar","from":36,"to":58},
{"col":3,"sigma":"0.75","method":"Li and Nachtsheim","from":3,"to":55},
{"col":3,"sigma":"1","method":"A-ComVar","from":18,"to":25},
{"col":3,"sigma":"1","method":"A-ComVar","from":30,"to":36},
{"col":3,"sigma":"1","method":"Li and Nachtsheim","from":4,"to":36},
{"col":3,"sigma":"1.25","method":"A-ComVar","from":3,"to":27},
{"col":3,"sigma":"1.25","method":"Li and Nachtsheim","from":4,"to":33},
{"col":3,"sigma":"1.5","method":"A-ComVar","from":4,"to":24},
{"col":3,"sigma":"1.5","method":"Li and Nachtsheim","from":2,"to":27},
{"col":3,"sigma":"0.1","method":"Li and Nachtsheim","v":82},
{"col":3,"sigma":"0.1","method":"Li and Nachtsheim","v":83.5},
{"col":3,"sigma":"0.1","method":"Li and Nachtsheim","v":85},
{"col":3,"sigma":"0.1","method":"Li and Nachtsheim","v":87},
{"col":3,"sigma":"0.1","method":"Li and Nachtsheim","v":89},
{"col":3,"sigma":"0.1","method":"Li and Nachtsheim","v":97},
{"col":3,"sigma":"0.1","method":"Li and Nachtsheim","v":98.5},
{"col":3,"sigma":"0.1","method":"Li and Nachtsheim","v":100},
{"col":3,"sigma":"0.25","method":"A-ComVar","v":51},
{"col":3,"sigma":"0.25","method":"A-ComVar","v":55},
{"col":3,"sigma":"0.25","method":"A-ComVar","v":74},
{"col":3,"sigma":"0.25","method":"A-ComVar","v":93},
{"col":3,"sigma":"0.25","method":"A-ComVar","v":95},
{"col":3,"sigma":"0.25","method":"A-ComVar","v":97},
{"col":3,"sigma":"0.25","method":"A-ComVar","v":98.5},
{"col":3,"sigma":"0.25","method":"A-ComVar","v":100},
{"col":3,"sigma":"0.25","method":"Li and Nachtsheim","v":32},
{"col":3,"sigma":"0.25","method":"Li and Nachtsheim","v":35},
{"col":3,"sigma":"0.25","method":"Li and Nachtsheim","v":38},
{"col":3,"sigma":"0.25","method":"Li and Nachtsheim","v":45},
{"col":3,"sigma":"0.25","method":"Li and Nachtsheim","v":51},
{"col":3,"sigma":"0.25","method":"Li and Nachtsheim","v":84},
{"col":3,"sigma":"0.25","method":"Li and Nachtsheim","v":88},
{"col":3,"sigma":"0.25","method":"Li and Nachtsheim","v":90},
{"col":3,"sigma":"0.25","method":"Li and Nachtsheim","v":93},
{"col":3,"sigma":"0.25","method":"Li and Nachtsheim","v":95},
{"col":3,"sigma":"0.25","method":"Li and Nachtsheim","v":97},
{"col":3,"sigma":"0.25","method":"Li and Nachtsheim","v":98.5},
{"col":3,"sigma":"0.25","method":"Li and Nachtsheim","v":100},
{"col":3,"sigma":"0.5","method":"A-ComVar","v":25},
{"col":3,"sigma":"0.5","method":"A-ComVar","v":28},
{"col":3,"sigma":"0.5","method":"A-ComVar","v":30},
{"col":3,"sigma":"0.5","method":"A-ComVar","v":33},
{"col":3,"sigma":"0.5","method":"A-ComVar","v":36},
{"col":3,"sigma":"0.5","method":"A-ComVar","v":38},
{"col":3,"sigma":"0.5","method":"A-ComVar","v":58},
{"col":3,"sigma":"0.5","method":"A-ComVar","v":65},
{"col":3,"sigma":"0.5","method":"A-ComVar","v":68},
{"col":3,"sigma":"0.5","method":"A-ComVar","v":70},
{"col":3,"sigma":"0.5","method":"A-ComVar","v":72},
{"col":3,"sigma":"0.5","method":"A-ComVar","v":74},
{"col":3,"sigma":"0.5","method":"A-ComVar","v":76},
{"col":3,"sigma":"0.5","method":"A-ComVar","v":78},
{"col":3,"sigma":"0.5","method":"A-ComVar","v":80},
{"col":3,"sigma":"0.5","method":"Li and Nachtsheim","v":9},
{"col":3,"sigma":"0.5","method":"Li and Nachtsheim","v":10.5},
{"col":3,"sigma":"0.5","method":"Li and Nachtsheim","v":12},
{"col":3,"sigma":"0.5","method":"Li and Nachtsheim","v":14},
{"col":3,"sigma":"0.5","method":"Li and Nachtsheim","v":18},
{"col":3,"sigma":"0.5","method":"Li and Nachtsheim","v":27},
{"col":3,"sigma":"0.75","method":"A-ComVar","v":13},
{"col":3,"sigma":"0.75","method":"A-ComVar","v":17},
{"col":3,"sigma":"0.75","method":"A-ComVar","v":18.5},
{"col":3,"sigma":"0.75","method":"A-ComVar","v":28},
{"col":3,"sigma":"1","method":"A-ComVar","v":7},
{"col":3,"sigma":"1","method":"A-ComVar","v":8.5},
{"col":3,"sigma":"1","method":"A-ComVar","v":12},
{"col":3,"sigma":"1","method":"A-ComVar","v":13.5},
{"col":3,"sigma":"1","method":"A-ComVar","v":40},
{"col":3,"sigma":"1","method":"Li and Nachtsheim","v":45},
{"col":3,"sigma":"1","method":"Li and Nachtsheim","v":54}
]
},
"vconcat": [
{
 "title": "A-ComVar vs Placket-Burman",
 "data": {"name": "r1"},
 "facet": {"column": {"field": "col", "type": "ordinal", "header": null}},
 "spacing": 35.5,
 "resolve": {"axis": {"y": "independent"}},
 "spec": {
  "width": 215, "height": 216,
  "layer": [
   {"transform": [{"filter": "isValid(datum.q1)"}],
    "mark": {"type": "rule", "color": "#333333", "strokeWidth": 0.9},
    "encoding": {
     "x": {"field": "sigma", "type": "nominal", "title": "σ", "scale": {"domain": ["0.1","0.25","0.5","0.75","1","1.25","1.5"], "paddingInner": 0.25, "paddingOuter": 0.225}, "axis": {"labelAngle": -45, "labelAlign": "right", "labelBaseline": "top", "grid": true, "bandPosition": 0.5, "titleY": 20, "labelPadding": 1.5}},
     "xOffset": {"field": "method", "type": "nominal", "scale": {"domain": ["A-ComVar", "Placket-Burman"], "paddingInner": 0, "paddingOuter": 0}},
     "y": {"field": "lo", "type": "quantitative", "title": "Performance", "scale": {"domain": [-5, 105], "nice": false, "zero": false}, "axis": {"values": [0,12.5,25,37.5,50,62.5,75,87.5,100], "labelExpr": "datum.value % 25 == 0 ? datum.label : ''", "gridWidth": {"condition": {"test": "datum.value % 25 == 0", "value": 1}, "value": 0.6}, "tickOpacity": {"condition": {"test": "datum.value % 25 == 0", "value": 1}, "value": 0}, "titlePadding": 3, "labelPadding": 1.5}},
     "y2": {"field": "hi"}}},
   {"transform": [{"filter": "isValid(datum.q1)"}],
    "mark": {"type": "bar", "stroke": "#333333", "strokeWidth": 0.9},
    "encoding": {
     "x": {"field": "sigma", "type": "nominal"},
     "xOffset": {"field": "method", "type": "nominal"},
     "y": {"field": "q1", "type": "quantitative"},
     "y2": {"field": "q3"},
     "color": {"field": "method", "type": "nominal", "scale": {"domain": ["A-ComVar", "Placket-Burman"], "range": ["#0000FF", "#99FFFF"]}, "legend": null}}},
   {"transform": [{"filter": "isValid(datum.q1)"}],
    "mark": {"type": "bar", "fillOpacity": 0, "stroke": "#333333", "strokeWidth": 1.5},
    "encoding": {
     "x": {"field": "sigma", "type": "nominal"},
     "xOffset": {"field": "method", "type": "nominal"},
     "y": {"field": "med", "type": "quantitative"},
     "y2": {"field": "med"}}},
   {"transform": [{"filter": "isValid(datum.from)"}],
    "mark": {"type": "rule", "color": "#333333", "strokeWidth": 3.2, "strokeCap": "round"},
    "encoding": {
     "x": {"field": "sigma", "type": "nominal"},
     "xOffset": {"field": "method", "type": "nominal"},
     "y": {"field": "from", "type": "quantitative"},
     "y2": {"field": "to"},
     "strokeDash": {"condition": {"test": "datum.col == 3", "value": [0, 3.1]}, "value": [1, 0]}}},
   {"transform": [{"filter": "isValid(datum.v)"}],
    "mark": {"type": "circle", "color": "#333333", "size": 9, "opacity": 1},
    "encoding": {
     "x": {"field": "sigma", "type": "nominal"},
     "xOffset": {"field": "method", "type": "nominal"},
     "y": {"field": "v", "type": "quantitative"}}}
  ]
 }
},
{
 "title": "A-ComVar vs Ghosh and Tian (2007)",
 "data": {"name": "r2"},
 "facet": {"column": {"field": "col", "type": "ordinal", "header": null}},
 "spacing": 35.5,
 "resolve": {"axis": {"y": "independent"}},
 "spec": {
  "width": 215, "height": 216,
  "layer": [
   {"transform": [{"filter": "isValid(datum.q1)"}],
    "mark": {"type": "rule", "color": "#333333", "strokeWidth": 0.9},
    "encoding": {
     "x": {"field": "sigma", "type": "nominal", "title": "σ", "scale": {"domain": ["0.1","0.25","0.5","0.75","1","1.25","1.5"], "paddingInner": 0.25, "paddingOuter": 0.225}, "axis": {"labelAngle": -45, "labelAlign": "right", "labelBaseline": "top", "grid": true, "bandPosition": 0.5, "titleY": 20, "labelPadding": 1.5}},
     "xOffset": {"field": "method", "type": "nominal", "scale": {"domain": ["A-ComVar", "Ghosh and Tian"], "paddingInner": 0, "paddingOuter": 0}},
     "y": {"field": "lo", "type": "quantitative", "title": "Performance", "scale": {"domain": [-5, 105], "nice": false, "zero": false}, "axis": {"values": [0,12.5,25,37.5,50,62.5,75,87.5,100], "labelExpr": "datum.value % 25 == 0 ? datum.label : ''", "gridWidth": {"condition": {"test": "datum.value % 25 == 0", "value": 1}, "value": 0.6}, "tickOpacity": {"condition": {"test": "datum.value % 25 == 0", "value": 1}, "value": 0}, "titlePadding": 3, "labelPadding": 1.5}},
     "y2": {"field": "hi"}}},
   {"transform": [{"filter": "isValid(datum.q1)"}],
    "mark": {"type": "bar", "stroke": "#333333", "strokeWidth": 0.9},
    "encoding": {
     "x": {"field": "sigma", "type": "nominal"},
     "xOffset": {"field": "method", "type": "nominal"},
     "y": {"field": "q1", "type": "quantitative"},
     "y2": {"field": "q3"},
     "color": {"field": "method", "type": "nominal", "scale": {"domain": ["A-ComVar", "Ghosh and Tian"], "range": ["#0000FF", "#FFFF99"]}, "legend": null}}},
   {"transform": [{"filter": "isValid(datum.q1)"}],
    "mark": {"type": "bar", "fillOpacity": 0, "stroke": "#333333", "strokeWidth": 1.5},
    "encoding": {
     "x": {"field": "sigma", "type": "nominal"},
     "xOffset": {"field": "method", "type": "nominal"},
     "y": {"field": "med", "type": "quantitative"},
     "y2": {"field": "med"}}},
   {"transform": [{"filter": "isValid(datum.from)"}],
    "mark": {"type": "rule", "color": "#333333", "strokeWidth": 3.2, "strokeCap": "round"},
    "encoding": {
     "x": {"field": "sigma", "type": "nominal"},
     "xOffset": {"field": "method", "type": "nominal"},
     "y": {"field": "from", "type": "quantitative"},
     "y2": {"field": "to"},
     "strokeDash": {"condition": {"test": "datum.col == 3", "value": [0, 3.1]}, "value": [1, 0]}}},
   {"transform": [{"filter": "isValid(datum.v)"}],
    "mark": {"type": "circle", "color": "#333333", "size": 9, "opacity": 1},
    "encoding": {
     "x": {"field": "sigma", "type": "nominal"},
     "xOffset": {"field": "method", "type": "nominal"},
     "y": {"field": "v", "type": "quantitative"}}}
  ]
 }
},
{
 "title": "A-ComVar vs Bayes Optimal (Bingham and Chipman, 2007)",
 "data": {"name": "r3"},
 "facet": {"column": {"field": "col", "type": "ordinal", "header": null}},
 "spacing": 35.5,
 "resolve": {"axis": {"y": "independent"}},
 "spec": {
  "width": 215, "height": 216,
  "layer": [
   {"transform": [{"filter": "isValid(datum.q1)"}],
    "mark": {"type": "rule", "color": "#333333", "strokeWidth": 0.9},
    "encoding": {
     "x": {"field": "sigma", "type": "nominal", "title": "σ", "scale": {"domain": ["0.1","0.25","0.5","0.75","1","1.25","1.5"], "paddingInner": 0.25, "paddingOuter": 0.225}, "axis": {"labelAngle": -45, "labelAlign": "right", "labelBaseline": "top", "grid": true, "bandPosition": 0.5, "titleY": 20, "labelPadding": 1.5}},
     "xOffset": {"field": "method", "type": "nominal", "scale": {"domain": ["A-ComVar", "Bayes Optimal"], "paddingInner": 0, "paddingOuter": 0}},
     "y": {"field": "lo", "type": "quantitative", "title": "Performance", "scale": {"domain": [-5, 105], "nice": false, "zero": false}, "axis": {"values": [0,12.5,25,37.5,50,62.5,75,87.5,100], "labelExpr": "datum.value % 25 == 0 ? datum.label : ''", "gridWidth": {"condition": {"test": "datum.value % 25 == 0", "value": 1}, "value": 0.6}, "tickOpacity": {"condition": {"test": "datum.value % 25 == 0", "value": 1}, "value": 0}, "titlePadding": 3, "labelPadding": 1.5}},
     "y2": {"field": "hi"}}},
   {"transform": [{"filter": "isValid(datum.q1)"}],
    "mark": {"type": "bar", "stroke": "#333333", "strokeWidth": 0.9},
    "encoding": {
     "x": {"field": "sigma", "type": "nominal"},
     "xOffset": {"field": "method", "type": "nominal"},
     "y": {"field": "q1", "type": "quantitative"},
     "y2": {"field": "q3"},
     "color": {"field": "method", "type": "nominal", "scale": {"domain": ["A-ComVar", "Bayes Optimal"], "range": ["#0000FF", "#FFA500"]}, "legend": null}}},
   {"transform": [{"filter": "isValid(datum.q1)"}],
    "mark": {"type": "bar", "fillOpacity": 0, "stroke": "#333333", "strokeWidth": 1.5},
    "encoding": {
     "x": {"field": "sigma", "type": "nominal"},
     "xOffset": {"field": "method", "type": "nominal"},
     "y": {"field": "med", "type": "quantitative"},
     "y2": {"field": "med"}}},
   {"transform": [{"filter": "isValid(datum.from)"}],
    "mark": {"type": "rule", "color": "#333333", "strokeWidth": 3.2, "strokeCap": "round"},
    "encoding": {
     "x": {"field": "sigma", "type": "nominal"},
     "xOffset": {"field": "method", "type": "nominal"},
     "y": {"field": "from", "type": "quantitative"},
     "y2": {"field": "to"},
     "strokeDash": {"condition": {"test": "datum.col == 3", "value": [0, 3.1]}, "value": [1, 0]}}},
   {"transform": [{"filter": "isValid(datum.v)"}],
    "mark": {"type": "circle", "color": "#333333", "size": 9, "opacity": 1},
    "encoding": {
     "x": {"field": "sigma", "type": "nominal"},
     "xOffset": {"field": "method", "type": "nominal"},
     "y": {"field": "v", "type": "quantitative"}}}
  ]
 }
},
{
 "title": "A-ComVar vs Li and Nachtsheim (2000)",
 "data": {"name": "r4"},
 "facet": {"column": {"field": "col", "type": "ordinal", "header": null}},
 "spacing": 35.5,
 "resolve": {"axis": {"y": "independent"}},
 "spec": {
  "width": 215, "height": 216,
  "layer": [
   {"transform": [{"filter": "isValid(datum.q1)"}],
    "mark": {"type": "rule", "color": "#333333", "strokeWidth": 0.9},
    "encoding": {
     "x": {"field": "sigma", "type": "nominal", "title": "σ", "scale": {"domain": ["0.1","0.25","0.5","0.75","1","1.25","1.5"], "paddingInner": 0.25, "paddingOuter": 0.225}, "axis": {"labelAngle": -45, "labelAlign": "right", "labelBaseline": "top", "grid": true, "bandPosition": 0.5, "titleY": 20, "labelPadding": 1.5}},
     "xOffset": {"field": "method", "type": "nominal", "scale": {"domain": ["A-ComVar", "Li and Nachtsheim"], "paddingInner": 0, "paddingOuter": 0}},
     "y": {"field": "lo", "type": "quantitative", "title": "Performance", "scale": {"domain": [-5, 105], "nice": false, "zero": false}, "axis": {"values": [0,12.5,25,37.5,50,62.5,75,87.5,100], "labelExpr": "datum.value % 25 == 0 ? datum.label : ''", "gridWidth": {"condition": {"test": "datum.value % 25 == 0", "value": 1}, "value": 0.6}, "tickOpacity": {"condition": {"test": "datum.value % 25 == 0", "value": 1}, "value": 0}, "titlePadding": 3, "labelPadding": 1.5}},
     "y2": {"field": "hi"}}},
   {"transform": [{"filter": "isValid(datum.q1)"}],
    "mark": {"type": "bar", "stroke": "#333333", "strokeWidth": 0.9},
    "encoding": {
     "x": {"field": "sigma", "type": "nominal"},
     "xOffset": {"field": "method", "type": "nominal"},
     "y": {"field": "q1", "type": "quantitative"},
     "y2": {"field": "q3"},
     "color": {"field": "method", "type": "nominal", "scale": {"domain": ["A-ComVar", "Li and Nachtsheim"], "range": ["#0000FF", "#FFC0CB"]}, "legend": null}}},
   {"transform": [{"filter": "isValid(datum.q1)"}],
    "mark": {"type": "bar", "fillOpacity": 0, "stroke": "#333333", "strokeWidth": 1.5},
    "encoding": {
     "x": {"field": "sigma", "type": "nominal"},
     "xOffset": {"field": "method", "type": "nominal"},
     "y": {"field": "med", "type": "quantitative"},
     "y2": {"field": "med"}}},
   {"transform": [{"filter": "isValid(datum.from)"}],
    "mark": {"type": "rule", "color": "#333333", "strokeWidth": 3.2, "strokeCap": "round"},
    "encoding": {
     "x": {"field": "sigma", "type": "nominal"},
     "xOffset": {"field": "method", "type": "nominal"},
     "y": {"field": "from", "type": "quantitative"},
     "y2": {"field": "to"},
     "strokeDash": {"condition": {"test": "datum.col == 3", "value": [0, 3.1]}, "value": [1, 0]}}},
   {"transform": [{"filter": "isValid(datum.v)"}],
    "mark": {"type": "circle", "color": "#333333", "size": 9, "opacity": 1},
    "encoding": {
     "x": {"field": "sigma", "type": "nominal"},
     "xOffset": {"field": "method", "type": "nominal"},
     "y": {"field": "v", "type": "quantitative"}}}
  ]
 }
}
]
}
